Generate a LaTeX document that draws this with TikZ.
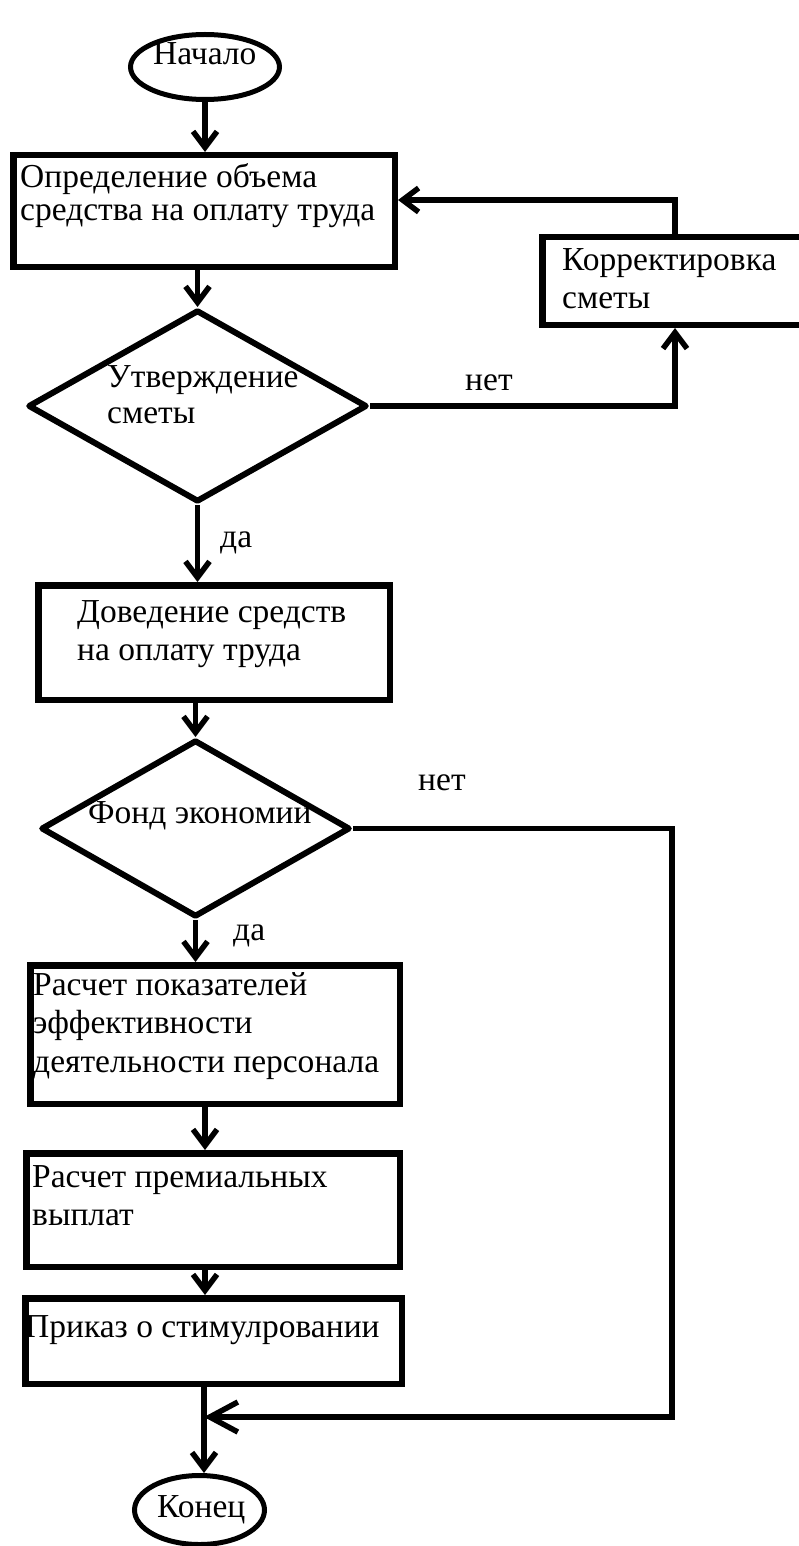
\documentclass[tikz,border=0pt]{standalone}
\usepackage{fontspec}
\setmainfont{Liberation Serif}
\usetikzlibrary{shapes.geometric,arrows.meta}
\newcommand\mlines[2]{\vtop{\baselineskip=#1pt\relax #2}}
\begin{document}
\begin{tikzpicture}[x=1pt,y=-1pt,
  every node/.style={inner sep=0pt, font=\fontsize{33.5}{38}\selectfont},
  box/.style={draw, rectangle, line width=6.5pt},
  dec/.style={draw, diamond, line width=6pt, line join=round},
  term/.style={draw, ellipse, line width=5pt},
  lbl/.style={anchor=base west},
  ln/.style={line width=5.5pt},
  arr/.style={ln, -{Straight Barb[length=16pt,width=24pt]}},
  bigarr/.style={ln, -{Straight Barb[length=28pt,width=30pt]}}]
\useasboundingbox (0,0) rectangle (799,1546);
\clip (0,0) rectangle (799,1546);
\coordinate (cx) at (205,0);
% shapes
\node[term, minimum width=149pt, minimum height=65pt] (start) at (205,67) {};
\node[box, minimum width=381.5pt, minimum height=111.5pt] (b1) at (204,211) {};
\node[box, minimum width=265.5pt, minimum height=87.5pt] (kor) at (675,281) {};
\node[dec, minimum width=339pt, minimum height=192pt] (d1) at (197.5,406) {};
\node[box, minimum width=351.5pt, minimum height=114.5pt] (b2) at (214,642.5) {};
\node[dec, minimum width=309pt, minimum height=177pt] (d2) at (195.5,828.5) {};
\node[box, minimum width=369.5pt, minimum height=138.5pt] (b3) at (215,1034.5) {};
\node[box, minimum width=373.5pt, minimum height=113.5pt] (b4) at (213,1210) {};
\node[box, minimum width=376.5pt, minimum height=85.5pt] (b5) at (213.5,1341) {};
\node[term, minimum width=130pt, minimum height=69pt] (end) at (199.5,1510) {};
% texts
\node[lbl] (tstart) at (153,65) {Начало};
\node[lbl] (t1) at (20,188) {\mlines{33}{\hbox{Определение объема}\hbox{средства на оплату труда}}};
\node[lbl] (tkor) at (562,270) {\mlines{38}{\hbox{Корректировка}\hbox{сметы}}};
\node[lbl] (td1) at (107,387) {\mlines{36}{\hbox{Утверждение}\hbox{сметы}}};
\node[lbl] (no1) at (465,390) {нет};
\node[lbl] (yes1) at (220,547) {да};
\node[lbl] (t2) at (77,622) {\mlines{38}{\hbox{Доведение средств}\hbox{на оплату труда}}};
\node[lbl] (td2) at (88,823) {Фонд экономии};
\node[lbl] (no2) at (418,790) {нет};
\node[lbl] (yes2) at (233,940) {да};
\node[lbl] (t3) at (33,995) {\mlines{38.5}{\hbox{Расчет показателей}\hbox{эффективности}\hbox{деятельности персонала}}};
\node[lbl] (t4) at (32,1187) {\mlines{38}{\hbox{Расчет премиальных}\hbox{выплат}}};
\node[lbl] (t5) at (25,1337) {Приказ о стимулровании};
\node[lbl] (tend) at (157,1517) {Конец};
% connectors
\draw[arr] (start.south -| cx) -- (b1.north -| cx);
\draw[arr] (d1.north |- b1.south) -- (d1.north);
\draw[arr] (d1.east) -| (kor.south);
\draw[arr] (kor.north) |- ([yshift=11pt]b1.east);
\draw[arr] (d1.south) -- (d1.south |- b2.north);
\draw[arr] (d2.north |- b2.south) -- (d2.north);
\draw[arr] (d2.south) -- (d2.south |- b3.north);
\draw[arr] (b3.south -| cx) -- (b4.north -| cx);
\draw[arr] (b4.south -| cx) -- (b5.north -| cx);
\coordinate (m) at (204,1417);
\coordinate (r2) at (672,1417);
\draw[arr] (b5.south -| m) -- (end.north -| m);
\draw[bigarr] (d2.east) -| (r2) -- (m);
\end{tikzpicture}
\end{document}
